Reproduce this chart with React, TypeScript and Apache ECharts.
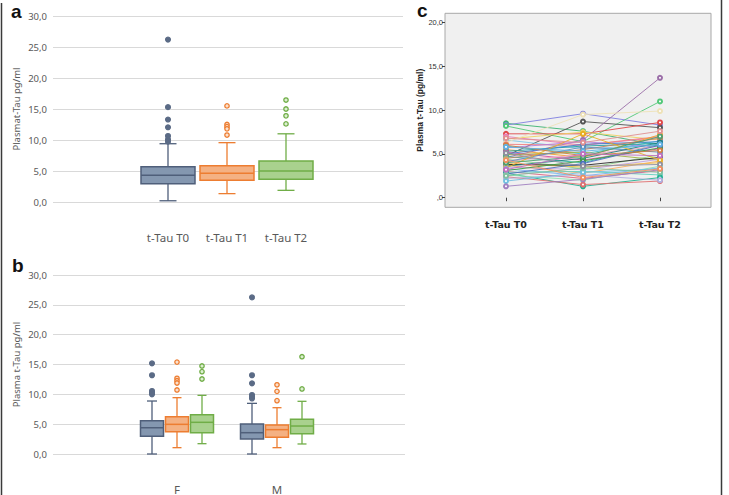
import React, { useEffect, useRef } from 'react';
import * as echarts from 'echarts';

// ---------- data ----------
const timeLabels = ['t-Tau T0', 't-Tau T1', 't-Tau T2'];
const sexLabels = ['F', 'M'];

// panel a: [lower whisker, Q1, median, Q3, upper whisker] per time point
const boxA_T0 = [0.2, 2.95, 4.3, 5.7, 9.4];
const boxA_T1 = [1.35, 3.5, 4.62, 5.86, 9.57];
const boxA_T2 = [1.88, 3.65, 5.0, 6.6, 11.0];
const outA_T0 = [26.2, 15.3, 13.3, 12.05, 10.65, 10.1, 9.73];
const outA_T1 = [15.5, 12.5, 12.15, 11.8, 10.8];
const outA_T2 = [16.45, 15.0, 13.9, 12.6];

// panel b: per time point, [F, M]
const boxB_T0 = [[0.0, 2.96, 4.4, 5.59, 8.88], [0.0, 2.51, 3.57, 5.03, 8.49]];
const boxB_T1 = [[1.06, 3.74, 4.97, 6.26, 9.44], [1.06, 2.79, 4.08, 4.86, 7.76]];
const boxB_T2 = [[1.73, 3.58, 5.31, 6.59, 9.83], [1.68, 3.41, 4.69, 5.81, 8.83]];
const outB_T0 = [[15.2, 13.2, 10.56, 10.27, 10.0], [26.25, 13.2, 11.85, 9.89, 9.6, 9.3]];
const outB_T1 = [[15.4, 12.68, 12.28, 11.9, 10.73], [11.6, 10.5, 8.94]];
const outB_T2 = [[14.75, 13.8, 12.57], [16.3, 10.9]];

// panel c: individual subjects, values at T0, T1, T2
const subjT0 = [8.5, 8.3, 8.2, 4.8, 4.6, 7.3, 7.0, 6.7, 6.6, 6.3, 6.1, 5.9, 5.7, 5.5, 5.3, 5.2, 5.0, 4.9, 4.7, 4.5, 4.4, 4.2, 4.1, 3.9, 3.8, 3.7, 3.6, 3.5, 3.4, 3.3, 3.1, 3.0, 2.9, 2.8, 2.7, 2.6, 2.4, 2.2, 1.9, 1.3, 6.0, 5.8, 4.0, 3.2, 6.8, 2.5, 5.1, 4.3];
const subjT1 = [7.6, 9.6, 6.4, 8.7, 6.6, 7.3, 6.0, 7.5, 5.6, 9.5, 6.0, 5.0, 6.4, 4.6, 5.9, 4.3, 6.1, 5.2, 4.0, 5.5, 3.3, 4.9, 5.8, 3.5, 3.7, 2.8, 4.5, 3.2, 7.3, 2.5, 4.2, 2.2, 3.0, 1.3, 3.9, 2.0, 1.5, 2.6, 2.9, 2.1, 4.8, 5.3, 4.7, 5.0, 6.3, 3.4, 3.6, 2.3];
const subjT2 = [6.0, 8.3, 11.0, 8.0, 13.7, 8.6, 6.9, 6.6, 6.0, 9.9, 7.0, 6.5, 5.8, 7.2, 6.2, 5.6, 6.4, 4.3, 6.1, 6.8, 4.9, 5.9, 5.2, 4.0, 4.6, 4.2, 6.3, 4.4, 4.3, 3.4, 5.7, 3.1, 2.6, 2.3, 6.0, 3.6, 1.9, 2.0, 3.3, 3.2, 5.4, 6.1, 7.0, 4.8, 7.6, 2.9, 3.8, 3.3];

// ---------- styles ----------
const subjColors = ['#3cb371', '#8080e0', '#52c878', '#555555', '#9b6fa8', '#e04848', '#e87ab8', '#f0d060', '#7ec8e8', '#eee2b8', '#f08080', '#40c0d0', '#b080e0', '#f5a030', '#20a0a0', '#d050a0', '#4080d0', '#a0b040', '#30b0a0', '#c08060', '#90d090', '#f0a0c0', '#6090c0', '#f0c040', '#2a2a2a', '#f8b060', '#208080', '#c0a0e0', '#e8b020', '#80b0f0', '#40a040', '#e06080', '#60d0c0', '#20b090', '#5070c0', '#90e0b0', '#e07070', '#b0b0e0', '#70c0e0', '#a080c0', '#d08040', '#60b0e0', '#50a070', '#c070c0', '#e09090', '#80c0a0', '#9090a0', '#f09060'];

const BLUE = { fill: '#8497b0', stroke: '#4f5f7a', dot: '#5b6b86' };
const ORANGE = { fill: '#f4b183', stroke: '#ed7d31', dot: '#ed7d31' };
const GREEN = { fill: '#a9d18e', stroke: '#70ad47', dot: '#70ad47' };

const fmtComma = (v: number) => v.toFixed(1).replace('.', ',');

const makeBox = (fill: string, stroke: string, boxW: number, capW: number, offset: number) =>
  (params: any, api: any) => {
    const c = api.value(0);
    const pLo = api.coord([c, api.value(1)]);
    const yQ1 = api.coord([c, api.value(2)])[1];
    const yMed = api.coord([c, api.value(3)])[1];
    const yQ3 = api.coord([c, api.value(4)])[1];
    const yHi = api.coord([c, api.value(5)])[1];
    const x = pLo[0] + offset;
    const ls = { stroke, lineWidth: 1.3, fill: 'none' };
    return {
      type: 'group',
      children: [
        { type: 'line', shape: { x1: x, y1: yHi, x2: x, y2: yQ3 }, style: ls },
        { type: 'line', shape: { x1: x, y1: yQ1, x2: x, y2: pLo[1] }, style: ls },
        { type: 'line', shape: { x1: x - capW / 2, y1: yHi, x2: x + capW / 2, y2: yHi }, style: ls },
        { type: 'line', shape: { x1: x - capW / 2, y1: pLo[1], x2: x + capW / 2, y2: pLo[1] }, style: ls },
        { type: 'rect', shape: { x: x - boxW / 2, y: yQ3, width: boxW, height: yQ1 - yQ3 }, style: { fill, stroke, lineWidth: 1.5 } },
        { type: 'line', shape: { x1: x - boxW / 2, y1: yMed, x2: x + boxW / 2, y2: yMed }, style: { stroke, lineWidth: 1.5 } },
      ],
    };
  };

const makeDot = (fill: string, stroke: string, r: number, offset: number) =>
  (params: any, api: any) => {
    const p = api.coord([api.value(0), api.value(1)]);
    return { type: 'circle', shape: { cx: p[0] + offset, cy: p[1], r }, style: { fill, stroke, lineWidth: 1.3 } };
  };

const boxSeries = (data: number[][], col: any, boxW: number, capW: number, offset: number, xi: number) => ({
  type: 'custom',
  xAxisIndex: xi,
  yAxisIndex: xi,
  renderItem: makeBox(col.fill, col.stroke, boxW, capW, offset),
  encode: { x: 0, y: [1, 2, 3, 4, 5] },
  data,
  silent: true,
});

const dotSeries = (data: number[][], fill: string, stroke: string, r: number, offset: number, xi: number) => ({
  type: 'custom',
  xAxisIndex: xi,
  yAxisIndex: xi,
  renderItem: makeDot(fill, stroke, r, offset),
  encode: { x: 0, y: 1 },
  data,
  silent: true,
});

const flatOut = (arr: number[][]) => arr.flatMap((vals, i) => vals.map((v) => [i, v]));

export default function App() {
  const ref = useRef<HTMLDivElement>(null);
  useEffect(() => {
    if (!ref.current) return;
    const chart = echarts.init(ref.current, undefined, { renderer: 'svg' });
    const gridBase = { containLabel: false, outerBoundsMode: 'none' } as any;
    const labelGray = '#595959';
    const splitCol = '#d9d9d9';

    const hiddenX = (gi: number) => ({ type: 'value', gridIndex: gi, show: false, min: 0, max: 1 });

    const option: any = {
      animation: false,
      backgroundColor: '#ffffff',
      textStyle: { fontFamily: 'Noto Sans' },
      grid: [
        { ...gridBase, left: 53, top: 16, width: 350, height: 186 },
        { ...gridBase, left: 138.5, top: 16, width: 177, height: 186 },
        { ...gridBase, left: 53, top: 275, width: 352, height: 179 },
        { ...gridBase, left: 127, top: 275, width: 200, height: 179 },
        { ...gridBase, left: 445, top: 13.3, width: 266, height: 194, show: true, backgroundColor: '#f0f0f0', borderColor: '#a8a8a8', borderWidth: 1 },
        { ...gridBase, left: 506, top: 22.7, width: 154, height: 175 },
      ],
      xAxis: [
        hiddenX(0),
        {
          type: 'category', gridIndex: 1, data: timeLabels,
          axisLine: { show: false }, axisTick: { show: false },
          axisLabel: { margin: 29, fontSize: 11.5, color: labelGray },
        },
        hiddenX(2),
        {
          type: 'category', gridIndex: 3, data: sexLabels,
          axisLine: { show: false }, axisTick: { show: false },
          axisLabel: { margin: 29, fontSize: 11.5, color: labelGray },
        },
        hiddenX(4),
        {
          type: 'category', gridIndex: 5, data: timeLabels, boundaryGap: false, offset: 9.6,
          axisLine: { show: false },
          axisTick: { show: true, length: 3.5, lineStyle: { color: '#444' } },
          axisLabel: { margin: 12, fontSize: 9.5, fontWeight: 'bold', color: '#222', fontFamily: 'DejaVu Sans' },
        },
      ],
      yAxis: [
        {
          type: 'value', gridIndex: 0, min: 0, max: 30, interval: 5,
          name: 'Plasmat-Tau pg/ml', nameLocation: 'middle', nameGap: 32,
          nameTextStyle: { fontSize: 9.5, color: labelGray },
          axisLine: { show: false }, axisTick: { show: false },
          axisLabel: { formatter: fmtComma, fontSize: 9.5, color: labelGray, margin: 6 },
          splitLine: { show: true, lineStyle: { color: splitCol, width: 1.2 } },
        },
        { type: 'value', gridIndex: 1, min: 0, max: 30, show: false },
        {
          type: 'value', gridIndex: 2, min: 0, max: 30, interval: 5,
          name: 'Plasma t-Tau pg/ml', nameLocation: 'middle', nameGap: 32,
          nameTextStyle: { fontSize: 9.5, color: labelGray },
          axisLine: { show: false }, axisTick: { show: false },
          axisLabel: { formatter: fmtComma, fontSize: 9.5, color: labelGray, margin: 6 },
          splitLine: { show: true, lineStyle: { color: splitCol, width: 1.2 } },
        },
        { type: 'value', gridIndex: 3, min: 0, max: 30, show: false },
        { type: 'value', gridIndex: 4, min: 0, max: 1, show: false },
        {
          type: 'value', gridIndex: 5, min: 0, max: 20, interval: 5, offset: 61,
          name: 'Plasma t-Tau (pg/ml)', nameLocation: 'middle', nameGap: 13,
          nameTextStyle: { fontSize: 8.5, fontWeight: 'bold', color: '#222', fontFamily: 'Liberation Sans' },
          axisLine: { show: false },
          axisTick: { show: true, length: 3, lineStyle: { color: '#444' } },
          axisLabel: { formatter: (v: number) => (v === 0 ? ',0' : fmtComma(v)), fontSize: 7.5, color: '#333', margin: 2, fontFamily: 'Liberation Sans' },
          splitLine: { show: false },
        },
      ],
      series: [
        // panel a
        boxSeries([[0, ...boxA_T0]], BLUE, 54, 17, 0, 1),
        boxSeries([[1, ...boxA_T1]], ORANGE, 54, 17, 0, 1),
        boxSeries([[2, ...boxA_T2]], GREEN, 54, 17, 0, 1),
        dotSeries(outA_T0.map((v) => [0, v]), BLUE.dot, BLUE.dot, 2.4, 0, 1),
        dotSeries(outA_T1.map((v) => [1, v]), '#fbe0cc', ORANGE.dot, 2.2, 0, 1),
        dotSeries(outA_T2.map((v) => [2, v]), '#dcefd0', GREEN.dot, 2.2, 0, 1),
        // panel b
        boxSeries(boxB_T0.map((b, i) => [i, ...b]), BLUE, 23, 10, -25, 3),
        boxSeries(boxB_T1.map((b, i) => [i, ...b]), ORANGE, 23, 9, 0, 3),
        boxSeries(boxB_T2.map((b, i) => [i, ...b]), GREEN, 23, 9, 25, 3),
        dotSeries(flatOut(outB_T0), BLUE.dot, BLUE.dot, 2.4, -25, 3),
        dotSeries(flatOut(outB_T1), '#fbe0cc', ORANGE.dot, 2.2, 0, 3),
        dotSeries(flatOut(outB_T2), '#dcefd0', GREEN.dot, 2.2, 25, 3),
        // panel c
        ...subjT0.map((v0, i) => ({
          type: 'line',
          xAxisIndex: 5,
          yAxisIndex: 5,
          data: [v0, subjT1[i], subjT2[i]],
          symbol: 'emptyCircle',
          symbolSize: 4,
          silent: true,
          itemStyle: { color: subjColors[i % subjColors.length], borderWidth: 1 },
          lineStyle: { color: subjColors[i % subjColors.length], width: 1, opacity: 0.9 },
        })),
      ],
      graphic: [
        { type: 'text', left: 11, top: 2, style: { text: 'a', font: 'bold 19px "Liberation Sans"', fill: '#111' } },
        { type: 'text', left: 12, top: 256, style: { text: 'b', font: 'bold 19px "Liberation Sans"', fill: '#111' } },
        { type: 'text', left: 417, top: 1, style: { text: 'c', font: 'bold 19px "Liberation Sans"', fill: '#111' } },
        { type: 'line', shape: { x1: 1.5, y1: 3, x2: 1.5, y2: 495 }, style: { stroke: '#3a3a3a', lineWidth: 1.5 } },
        { type: 'line', shape: { x1: 721.5, y1: 0, x2: 721.5, y2: 495 }, style: { stroke: '#3a3a3a', lineWidth: 1.5 } },
      ],
    };
    chart.setOption(option);
    return () => chart.dispose();
  }, []);
  return <div ref={ref} style={{ position: 'fixed', left: 0, top: 0, width: 729, height: 495, background: '#fff' }} />;
}
